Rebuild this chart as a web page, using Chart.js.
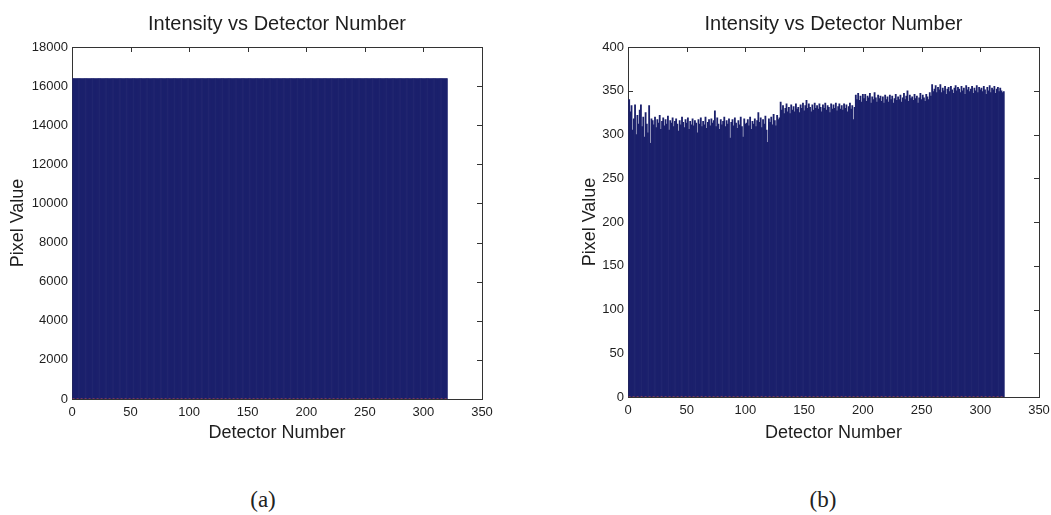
<!DOCTYPE html>
<html>
<head>
<meta charset="utf-8">
<title>Intensity vs Detector Number</title>
<script src="https://cdn.jsdelivr.net/npm/chart.js@4/dist/chart.umd.min.js"></script>
<style>
  body { margin: 0; background: #fff; width: 1051px; height: 515px; position: relative; overflow: hidden; }
  canvas { position: absolute; top: 0; }
  #chartA { left: 0; }
  #chartB { left: 560px; }
  .caption { position: absolute; top: 486px; font: 23px "Liberation Serif", serif; color: #222; width: 60px; text-align: center; line-height: 28px; }
</style>
</head>
<body>
<canvas id="chartA" width="525" height="470"></canvas>
<canvas id="chartB" width="500" height="470"></canvas>
<div class="caption" style="left:233px">(a)</div>
<div class="caption" style="left:793px">(b)</div>
<script>
// detector index, 1..320
const DETECTORS = Array.from({ length: 320 }, (_, i) => i + 1);

// (a) every detector is clipped at the 14-bit ceiling
const SATURATED = 16383;
const PIXELS_A = DETECTORS.map(() => SATURATED);

// (b) raw pixel values per detector
const PIXELS_B = [
  340, 326, 333, 305, 318, 334, 300, 322, 312, 328, 334, 309, 320, 297, 325, 312, 302, 333, 290, 318,
  316, 311, 320, 308, 317, 313, 322, 306, 315, 319, 310, 317, 312, 321, 305, 316, 313, 319, 309, 315,
  318, 312, 304, 316, 311, 320, 314, 308, 317, 313, 319, 306, 315, 311, 318, 310, 316, 313, 302, 317,
  312, 319, 309, 315, 311, 320, 307, 314, 317, 310, 318, 313, 316, 327, 309, 319, 312, 306, 317, 311,
  315, 320, 309, 316, 312, 318, 296, 314, 317, 310, 319, 313, 307, 316, 311, 320, 309, 297, 318, 312,
  313, 317, 310, 320, 306, 315, 312, 318, 309, 316, 325, 314, 319, 308, 317, 312, 321, 305, 291, 318,
  314, 320, 311, 323, 316, 310, 322, 317, 319, 337, 328, 333, 324, 330, 335, 326, 331, 324, 334, 328,
  332, 326, 335, 329, 331, 325, 334, 330, 336, 327, 333, 339, 330, 335, 331, 326, 334, 328, 336, 330,
  333, 329, 335, 331, 326, 334, 330, 336, 328, 333, 331, 325, 335, 329, 334, 330, 336, 327, 332, 335,
  329, 333, 328, 335, 330, 334, 326, 332, 336, 329, 333, 317, 331, 345, 340, 347, 339, 344, 337, 346,
  341, 346, 338, 344, 342, 347, 336, 343, 340, 348, 342, 337, 345, 341, 344, 338, 343, 336, 345, 340,
  343, 337, 345, 340, 344, 336, 341, 346, 339, 343, 340, 345, 337, 342, 347, 340, 344, 350, 338, 345,
  341, 343, 339, 346, 341, 344, 336, 342, 347, 340, 345, 342, 338, 346, 343, 340, 348, 344, 357, 349,
  352, 356, 348, 354, 351, 357, 348, 353, 350, 355, 346, 352, 354, 349, 355, 351, 347, 353, 356, 350,
  354, 352, 348, 355, 350, 353, 346, 356, 351, 354, 349, 352, 355, 347, 353, 350, 356, 348, 354, 351,
  353, 349, 355, 351, 346, 354, 350, 356, 348, 353, 351, 355, 347, 352, 354, 349, 353, 350, 348, 349
];

// axis limits: [min, max, step]
const X_AXIS = [0, 350, 50];
const Y_AXIS_A = [0, 18000, 2000];
const Y_AXIS_B = [0, 400, 50];

const TITLE = 'Intensity vs Detector Number';
const X_LABEL = 'Detector Number';
const Y_LABEL = 'Pixel Value';

const BAR_COLOR = '#1b206c';
const INK = '#1e1e1e';
const FONT = '"Liberation Sans", Arial, sans-serif';

// boxed axes with inward ticks on all four sides, plus the title over the plot
const boxAxes = {
  id: 'boxAxes',
  beforeDatasetsDraw(chart) {
    const { ctx, chartArea: a, scales: { x, y } } = chart;
    ctx.save();
    ctx.strokeStyle = '#333';
    ctx.lineWidth = 1;
    ctx.strokeRect(Math.round(a.left) + 0.5, Math.round(a.top) + 0.5,
      Math.round(a.right - a.left), Math.round(a.bottom - a.top));
    ctx.beginPath();
    x.ticks.forEach(t => {
      const px = Math.round(x.getPixelForValue(t.value)) + 0.5;
      ctx.moveTo(px, a.top); ctx.lineTo(px, a.top + 5);
      ctx.moveTo(px, a.bottom); ctx.lineTo(px, a.bottom - 5);
    });
    y.ticks.forEach(t => {
      const py = Math.round(y.getPixelForValue(t.value)) + 0.5;
      ctx.moveTo(a.left, py); ctx.lineTo(a.left + 5, py);
      ctx.moveTo(a.right, py); ctx.lineTo(a.right - 5, py);
    });
    ctx.stroke();
    ctx.fillStyle = INK;
    ctx.font = '20px ' + FONT;
    ctx.textAlign = 'center';
    ctx.textBaseline = 'middle';
    ctx.fillText(TITLE, (a.left + a.right) / 2, 24);
    ctx.restore();
  }
};

function makeChart(id, values, yAxis, box, yTitleX) {
  // box: chart area edges inside the canvas [left, top, right, bottom]
  const canvas = document.getElementById(id);
  const [left, top, right, bottom] = box;
  const tickFont = { family: FONT, size: 13 };
  const labelFont = { family: FONT, size: 18 };
  return new Chart(canvas, {
    type: 'bar',
    data: {
      datasets: [
        {
          data: DETECTORS.map((d, i) => ({ x: d, y: values[i] })),
          backgroundColor: BAR_COLOR,
          borderWidth: 0,
          barPercentage: 1,
          categoryPercentage: 1,
          grouped: false
        },
        {
          // bar baseline
          type: 'line',
          order: -1,
          data: [
            { x: DETECTORS[0] - 0.5, y: 0 },
            { x: DETECTORS[DETECTORS.length - 1] + 0.5, y: 0 }
          ],
          borderColor: '#d0504a',
          borderWidth: 1,
          borderDash: [2, 2],
          pointRadius: 0
        }
      ]
    },
    options: {
      responsive: false,
      animation: false,
      events: [],
      layout: { padding: { left: 0, top: top, right: canvas.width - right, bottom: 0 } },
      plugins: { legend: { display: false }, tooltip: { enabled: false } },
      scales: {
        x: {
          type: 'linear',
          min: X_AXIS[0], max: X_AXIS[1],
          offset: false,
          grid: { display: false, drawTicks: false },
          border: { display: false },
          ticks: { stepSize: X_AXIS[2], color: INK, font: tickFont, padding: 6, maxRotation: 0 },
          title: { display: true, text: X_LABEL, color: INK, font: labelFont, padding: { bottom: 26 } },
          afterFit: s => { s.height = canvas.height - bottom; }
        },
        y: {
          min: yAxis[0], max: yAxis[1],
          grid: { display: false, drawTicks: false },
          border: { display: false },
          ticks: { stepSize: yAxis[2], color: INK, font: tickFont, padding: 4, callback: v => String(v) },
          title: { display: true, text: Y_LABEL, color: INK, font: labelFont, padding: { top: yTitleX - 10.8 } },
          afterFit: s => { s.width = left; }
        }
      }
    },
    plugins: [boxAxes]
  });
}

makeChart('chartA', PIXELS_A, Y_AXIS_A, [72, 47, 482, 399], 18);
makeChart('chartB', PIXELS_B, Y_AXIS_B, [68, 47, 479, 397], 30);
</script>
</body>
</html>
